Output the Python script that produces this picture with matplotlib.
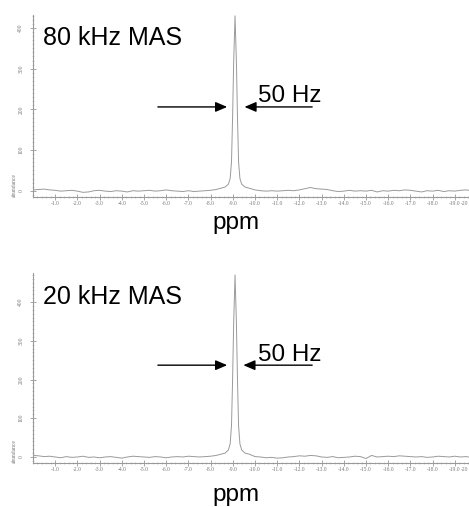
import matplotlib
matplotlib.use("Agg")
import matplotlib.pyplot as plt
from matplotlib.ticker import MultipleLocator

# baseline samples every 0.25 ppm (peak region left out, filled by the peak lists)
base_ppm = [0.0, -0.25, -0.5, -0.75, -1.0, -1.25, -1.5, -1.75, -2.0, -2.25, -2.5, -2.75,
            -3.0, -3.25, -3.5, -3.75, -4.0, -4.25, -4.5, -4.75, -5.0, -5.25, -5.5, -5.75,
            -6.0, -6.25, -6.5, -6.75, -7.0, -7.25, -7.5, -7.75, -8.0, -8.25,
            -10.0, -10.25, -10.5, -10.75, -11.0, -11.25, -11.5, -11.75, -12.0, -12.25, -12.5, -12.75,
            -13.0, -13.25, -13.5, -13.75, -14.0, -14.25, -14.5, -14.75, -15.0, -15.25, -15.5, -15.75,
            -16.0, -16.25, -16.5, -16.75, -17.0, -17.25, -17.5, -17.75, -18.0, -18.25, -18.5, -18.75,
            -19.0, -19.25, -19.5, -19.75, -20.0]

base_80 = [2, 3, 4, 2, 1, -1, 0, 1, -1, -4, -3, 0,
           1, -1, -2, 0, -1, -3, 0, -1, 0, 1, -1, 0,
           2, 0, -1, -2, 0, -2, -1, 0, 1, 3,
           2, 0, -1, 0, -1, 0, 1, 0, 2, 5, 8, 5,
           4, 3, 0, -2, -1, 1, -1, 0, -1, 1, -3, 0,
           -1, 1, 0, 2, 1, -1, -3, 0, -1, 1, -2, 0,
           -1, 1, 2, 0, 1]

base_20 = [4, 3, 1, 2, 0, -2, 1, -1, 0, 2, -1, 0,
           -2, 0, 1, -1, -3, 0, 2, 1, 0, -1, 1, 0,
           -2, 0, 1, 0, 2, 1, 0, 1, 2, 4,
           1, 0, -2, -1, -3, -2, 0, 1, 3, 2, 4, 3,
           0, -1, 1, -2, -1, 0, 2, 1, -4, 4, 0, 1,
           2, 1, 3, 2, 1, 0, 1, -1, 0, 2, 1, 0,
           2, 0, 1, -1, 0]

peak_ppm = [-8.45, -8.65, -8.8, -8.88, -8.94, -8.99, -9.04, -9.1, -9.16, -9.21, -9.26,
            -9.32, -9.4, -9.55, -9.75]
peak_80 = [6, 9, 16, 30, 70, 180, 320, 430, 320, 180, 70, 30, 16, 9, 6]
peak_20 = [7, 10, 18, 34, 80, 200, 350, 470, 350, 200, 80, 34, 18, 10, 7]

x_ticks = [-1, -2, -3, -4, -5, -6, -7, -8, -9, -10, -11, -12, -13, -14, -15, -16, -17, -18, -19, -20]
x_labels = ["%.1f" % t for t in x_ticks[:-1]] + [""]
end_label = "-20"   # squeezed against the right edge in the original
y_ticks = [0, 100, 200, 300, 400]

GREY = "#9a9a9a"


def spectrum(base, peak):
    pts = sorted(zip(base_ppm + peak_ppm, base + peak), key=lambda p: -p[0])
    return [p[0] for p in pts], [p[1] for p in pts]


def draw_panel(ax, base, peak, ytop, label, arrow_y, tip_l, tip_r, hz_y):
    xs, ys = spectrum(base, peak)
    ax.plot(xs, ys, color=GREY, lw=0.7)
    ax.set_xlim(0, -20)
    ax.set_ylim(-15.5, ytop)

    for s in ["top", "right"]:
        ax.spines[s].set_visible(False)
    for s in ["left", "bottom"]:
        ax.spines[s].set_color("#999999")
        ax.spines[s].set_linewidth(0.8)

    ax.set_xticks(x_ticks)
    ax.set_xticklabels(x_labels)
    ax.set_yticks(y_ticks)
    ax.set_yticklabels([str(t) for t in y_ticks], rotation=90, va="center")
    ax.xaxis.set_minor_locator(MultipleLocator(0.2))
    ax.yaxis.set_minor_locator(MultipleLocator(10))
    ax.tick_params(which="major", direction="inout", length=4, width=0.6, color="#999999",
                   labelsize=4, labelcolor="#777777")
    ax.tick_params(which="minor", direction="inout", length=2, width=0.4, color="#aaaaaa")
    ax.tick_params(axis="x", pad=1)
    ax.tick_params(axis="y", pad=5)
    for t in ax.get_xticklabels() + ax.get_yticklabels():
        t.set_family("Liberation Serif")

    # the "-20" label sits cut against the figure edge, keep it inside
    ax.annotate(end_label, xy=(0.98, 0), xycoords="axes fraction", xytext=(0, -3),
                textcoords="offset points", ha="right", va="top", fontsize=4,
                color="#777777", family="Liberation Serif")

    ax.text(-0.043, 0, "abundance", transform=ax.transAxes, rotation=90, va="bottom",
            ha="center", fontsize=4, color="#777777", family="Liberation Serif")

    ax.text(-0.45, label[1], label[0], fontsize=18, family="Liberation Sans", va="baseline")
    ax.text(-10.15, hz_y, "50 Hz", fontsize=17.5, family="Liberation Sans", va="baseline")

    arrow = dict(arrowstyle="-|>,head_length=0.7,head_width=0.3", color="black", lw=1)
    ax.annotate("", xy=(tip_l, arrow_y), xytext=(-5.5, arrow_y), arrowprops=arrow)
    ax.annotate("", xy=(tip_r, arrow_y), xytext=(-12.7, arrow_y), arrowprops=arrow)


fig = plt.figure(figsize=(4.69, 5.07), dpi=100)
ax1 = fig.add_axes([0.0704, 0.6114, 0.9467, 0.359])
ax2 = fig.add_axes([0.0704, 0.0868, 0.9467, 0.3748])

draw_panel(ax1, base_80, peak_80, 432, ("80 kHz MAS", 358), 206, -8.87, -9.4, 218)
draw_panel(ax2, base_20, peak_20, 475, ("20 kHz MAS", 395), 237, -8.87, -9.35, 248)

fig.text(0.503, 1 - 229 / 507, "ppm", fontsize=17.5, family="Liberation Sans", ha="center", va="baseline")
fig.text(0.503, 1 - 501 / 507, "ppm", fontsize=17.5, family="Liberation Sans", ha="center", va="baseline")

fig.savefig("out.png", dpi=100)
